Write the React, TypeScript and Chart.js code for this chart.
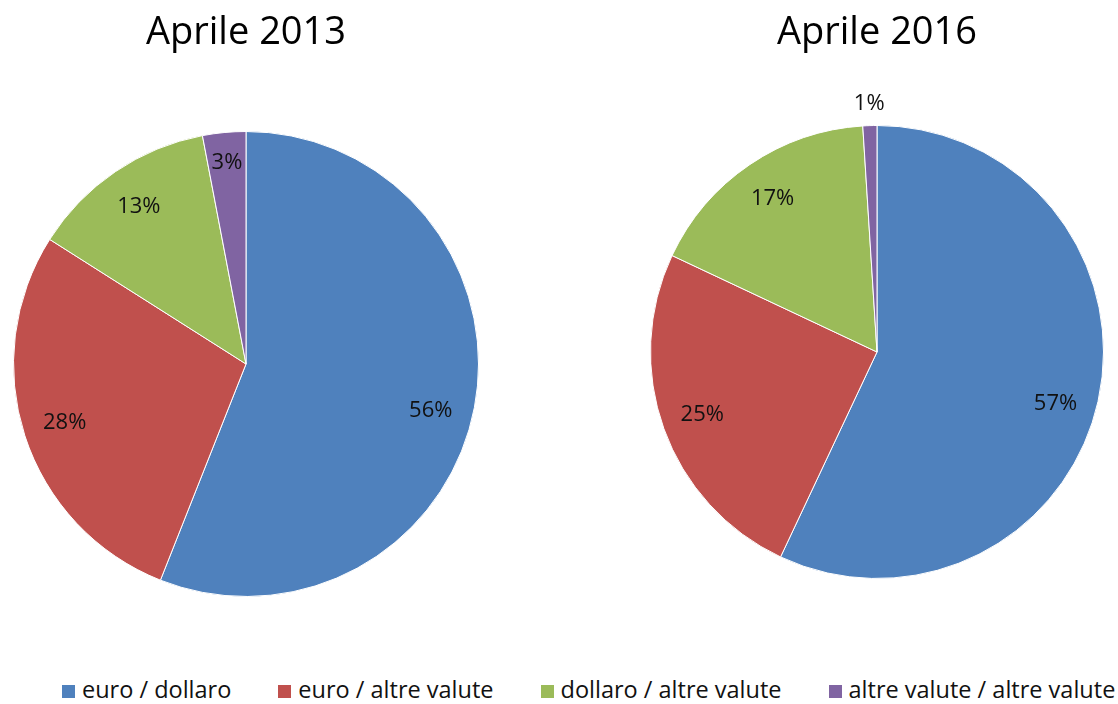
import React, { useEffect, useRef } from "react";
import { Chart, registerables } from "chart.js";

Chart.register(...registerables);

const categories = [
  "euro / dollaro",
  "euro / altre valute",
  "dollaro / altre valute",
  "altre valute / altre valute",
];
const values2013 = [56, 28, 13, 3];
const values2016 = [57, 25, 17, 1];
const title2013 = "Aprile 2013";
const title2016 = "Aprile 2016";
const colors = ["#4F81BD", "#C0504D", "#9BBB59", "#8064A2"];

const FONT = "'Open Sans', 'DejaVu Sans', sans-serif";

const labelPlugin = {
  id: "sliceLabels",
  afterDatasetsDraw(chart: any) {
    const ctx = chart.ctx;
    const meta = chart.getDatasetMeta(0);
    const data = chart.data.datasets[0].data as number[];
    ctx.save();
    ctx.font = `22px ${FONT}`;
    ctx.fillStyle = "#111";
    ctx.textAlign = "center";
    ctx.textBaseline = "middle";
    meta.data.forEach((arc: any, i: number) => {
      const p = arc.getProps(["x", "y", "startAngle", "endAngle", "outerRadius"], true);
      const v = data[i];
      const mid = (p.startAngle + p.endAngle) / 2 + (v > 50 ? 0.06 : 0);
      const f = v < 2 ? 1.095 : v < 5 ? 0.87 : 0.82;
      const r = p.outerRadius * f;
      ctx.fillText(v + "%", p.x + Math.cos(mid) * r, p.y + Math.sin(mid) * r);
    });
    ctx.restore();
  },
};

function PieChart(props: { values: number[]; title: string; titleBottom: number }) {
  const ref = useRef<HTMLCanvasElement>(null);
  useEffect(() => {
    if (!ref.current) return;
    const chart = new Chart(ref.current, {
      type: "pie",
      data: {
        labels: categories,
        datasets: [
          {
            data: props.values,
            backgroundColor: colors,
            borderColor: "#ffffff",
            borderWidth: 1,
          },
        ],
      },
      options: {
        animation: false,
        responsive: true,
        maintainAspectRatio: false,
        layout: { padding: 0 },
        plugins: {
          legend: { display: false },
          tooltip: { enabled: false },
          title: {
            display: true,
            text: props.title,
            color: "#000",
            font: { family: FONT, size: 38, weight: "normal" as any, lineHeight: 1.2 },
            padding: { top: 10, bottom: props.titleBottom },
          },
        },
      },
      plugins: [labelPlugin],
    });
    return () => chart.destroy();
  }, []);
  return <canvas ref={ref} />;
}

export default function App() {
  return (
    <div
      style={{
        position: "absolute",
        left: 0,
        top: 0,
        width: 1118,
        height: 704,
        overflow: "hidden",
        background: "#fff",
      }}
    >
      <div style={{ position: "absolute", left: 0, top: 0, width: 492, height: 597 }}>
        <PieChart values={values2013} title={title2013} titleBottom={75.4} />
      </div>
      <div style={{ position: "absolute", left: 636, top: 0, width: 482, height: 579 }}>
        <PieChart values={values2016} title={title2016} titleBottom={69.4} />
      </div>
      <div
        style={{
          position: "absolute",
          left: 62,
          top: 678,
          display: "flex",
          alignItems: "center",
          gap: 47,
          whiteSpace: "nowrap",
          fontFamily: FONT,
          fontSize: 23.5,
          lineHeight: 1,
          color: "#111",
        }}
      >
        {categories.map((c, i) => (
          <div key={c} style={{ display: "flex", alignItems: "center" }}>
            <span
              style={{
                display: "inline-block",
                width: 13,
                height: 13,
                background: colors[i],
                marginRight: 7,
                marginTop: 3,
              }}
            />
            <span>{c}</span>
          </div>
        ))}
      </div>
    </div>
  );
}
